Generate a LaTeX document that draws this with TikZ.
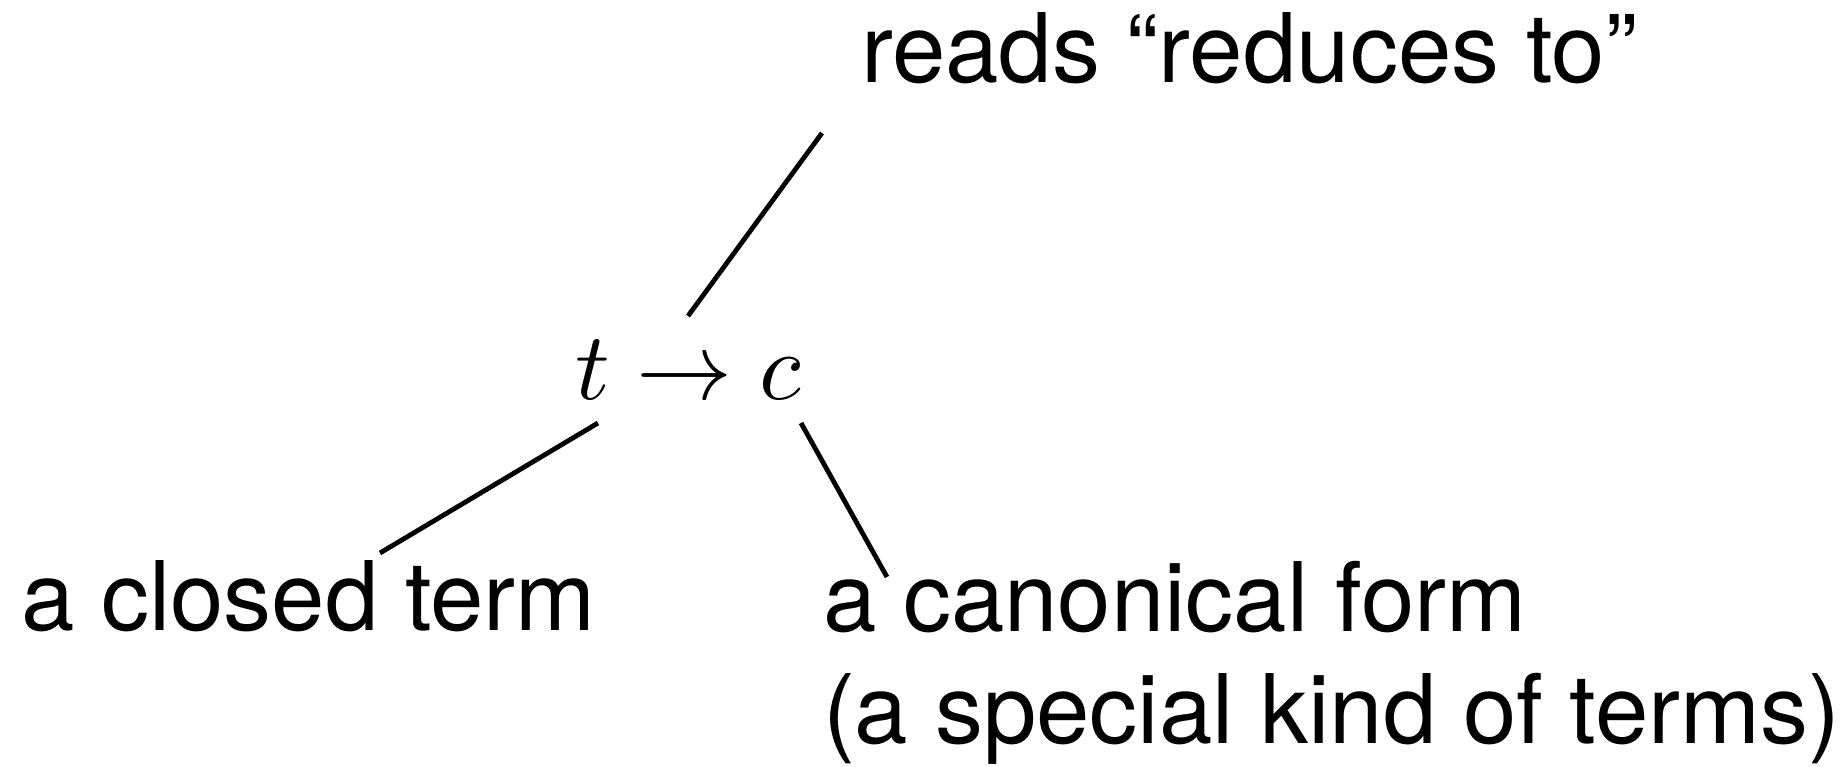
\documentclass[tikz,border=0pt]{standalone}
\usepackage{graphicx}
\usepackage{fontspec}
\setmainfont{TeX Gyre Heros}
\begin{document}
\begin{tikzpicture}[x=0.5pt,y=-0.5pt,
  lbl/.style={inner sep=0pt, outer sep=0pt, anchor=base west, font=\fontsize{48}{56}\selectfont},
  lead/.style={line width=2.4pt, black}]
\useasboundingbox (0,0) rectangle (1847,766);
\node[lbl] (reads) at (861,82) {reads “reduces to”};
\node[lbl] (rel) at (575,399) {\scalebox{4.8}{\fontsize{10}{12}\selectfont$t \to c$}};
\node[lbl] (closed) at (21,630) {a closed term};
\node[lbl] (canon) at (823,631) {a canonical form};
\node[lbl] (special) at (823,743) {(a special kind of terms)};
\coordinate (a1) at (822,133);
\coordinate (a2) at (688,316);
\coordinate (b1) at (598,423);
\coordinate (b2) at (380,553);
\coordinate (c1) at (801,423);
\coordinate (c2) at (887,577);
\draw[lead] (a1) -- (a2);
\draw[lead] (b1) -- (b2);
\draw[lead] (c1) -- (c2);
\end{tikzpicture}
\end{document}
